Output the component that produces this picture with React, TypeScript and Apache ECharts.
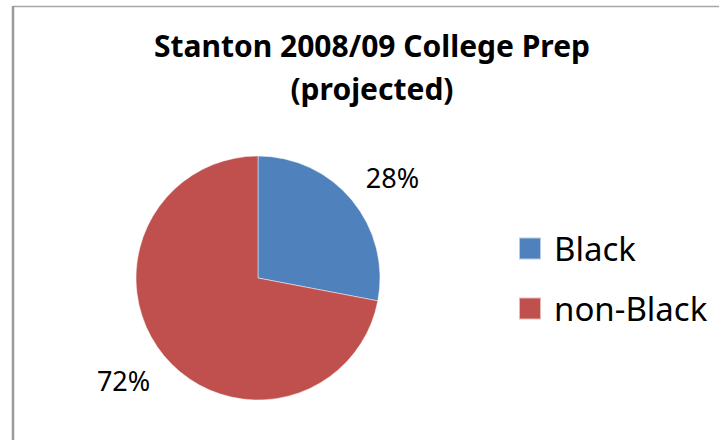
import React, { useEffect, useRef } from "react";
import * as echarts from "echarts";

const categories = ["Black", "non-Black"];
const values = [28, 72];
const colors = ["#4F81BD", "#C0504D"];
const titleText = "Stanton 2008/09 College Prep\n(projected)";

export default function App() {
  const ref = useRef<HTMLDivElement>(null);
  useEffect(() => {
    if (!ref.current) return;
    const chart = echarts.init(ref.current, null, { renderer: "svg" });
    const data = categories.map((name, i) => ({
      name,
      value: values[i],
      itemStyle: { color: colors[i] },
    }));
    const labelOffsets = [[5, 7], [-5, -5]];
    chart.setOption({
      animation: false,
      backgroundColor: "#ffffff",
      title: {
        text: titleText,
        left: 372,
        top: 24,
        padding: 0,
        textAlign: "center",
        textStyle: {
          fontFamily: "Noto Sans",
          fontWeight: "bold",
          fontSize: 30,
          lineHeight: 43,
          color: "#000000",
        },
      },
      legend: {
        orient: "vertical",
        left: 518,
        top: 232,
        padding: 0,
        icon: "rect",
        itemWidth: 22,
        itemHeight: 22,
        itemGap: 27,
        selectedMode: false,
        data: categories.map((name, i) => ({ name, itemStyle: { color: colors[i] } })),
        textStyle: {
          fontFamily: "Noto Sans",
          fontSize: 33,
          lineHeight: 33,
          color: "#000000",
          padding: [0, 0, 0, 8],
        },
      },
      graphic: [
        { type: "line", shape: { x1: 13, y1: 6.5, x2: 719, y2: 6.5 }, style: { stroke: "#a6a6a6", lineWidth: 1.5 } },
        { type: "line", shape: { x1: 13, y1: 6, x2: 13, y2: 440 }, style: { stroke: "#9a9a9a", lineWidth: 2.5 } },
      ],
      series: [
        {
          type: "pie",
          center: [258, 278],
          radius: 122,
          startAngle: 90,
          clockwise: true,
          label: { show: false },
          labelLine: { show: false },
          itemStyle: { borderColor: "rgba(255,255,255,0.6)", borderWidth: 0.8 },
          emphasis: { disabled: true },
          data,
        },
        {
          type: "pie",
          center: [258, 278],
          radius: [150, 180],
          startAngle: 90,
          clockwise: true,
          silent: true,
          avoidLabelOverlap: false,
          itemStyle: { color: "transparent" },
          label: {
            show: true,
            position: "inside",
            formatter: (p: any) => Math.round(p.percent) + "%",
            fontFamily: "Noto Sans",
            fontSize: 27,
            color: "#000000",
          },
          labelLine: { show: false },
          emphasis: { disabled: true },
          data: categories.map((name, i) => ({
            name,
            value: values[i],
            itemStyle: { color: "transparent" },
            label: { offset: labelOffsets[i] },
          })),
        },
      ],
    });
    return () => chart.dispose();
  }, []);
  return (
    <div
      ref={ref}
      style={{ position: "fixed", left: 0, top: 0, width: 719, height: 440 }}
    />
  );
}
